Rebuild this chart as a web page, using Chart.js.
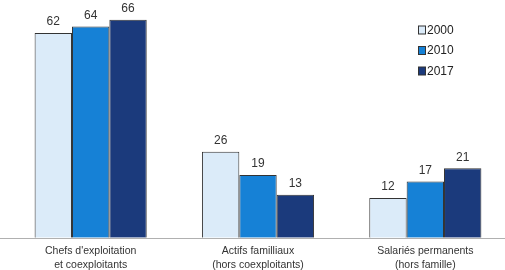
<!DOCTYPE html>
<html><head><meta charset="utf-8">
<script src="https://cdn.jsdelivr.net/npm/chart.js@4"></script>
<style>html,body{margin:0;padding:0;background:#fff;overflow:hidden;width:505px;height:270px}#wrap{width:509px;height:270px;position:relative}</style>
</head><body><div id="wrap"><canvas id="c"></canvas></div>
<script>
const categories = [["Chefs d'exploitation","et coexploitants"],["Actifs familliaux","(hors coexploitants)"],["Salariés permanents","(hors famille)"]];
const years = ["2000","2010","2017"];
const v2000 = [62,26,12];
const v2010 = [64,19,17];
const v2017 = [66,13,21];
const colors = ["#dbebf9","#1681d6","#1b3a7c"];

const labelsPlugin = {
  id:'vals',
  afterDatasetsDraw(chart){
    const ctx=chart.ctx;
    ctx.save();
    ctx.font='12px "Liberation Sans", Arial, sans-serif';
    ctx.fillStyle='#333';
    ctx.textAlign='center';
    ctx.textBaseline='bottom';
    chart.data.datasets.forEach((ds,i)=>{
      chart.getDatasetMeta(i).data.forEach((bar,j)=>{
        ctx.fillText(ds.data[j], bar.x, bar.y-5);
      });
    });
    // axis line
    const y=chart.scales.y.getPixelForValue(0);
    ctx.strokeStyle='#b0b0b0';ctx.lineWidth=1;
    ctx.beginPath();ctx.moveTo(0,Math.round(y)+0.5);ctx.lineTo(chart.width,Math.round(y)+0.5);ctx.stroke();
    // legend
    chart.data.datasets.forEach((ds,i)=>{
      const cy=30+i*20.5;
      ctx.fillStyle=ds.backgroundColor;
      ctx.fillRect(418.5,cy-4,7,8);
      ctx.strokeStyle='#333';ctx.strokeRect(418.5,cy-4,7,8);
      ctx.fillStyle='#222';ctx.textAlign='left';ctx.textBaseline='middle';
      ctx.font='12px "Liberation Sans", Arial, sans-serif';
      ctx.fillText(ds.label,427,cy+0.5);
    });
    ctx.restore();
  }
};

new Chart(document.getElementById('c'),{
  type:'bar',
  data:{labels:categories,datasets:[
    {label:years[0],data:v2000,backgroundColor:colors[0],borderColor:'#333',borderWidth:1},
    {label:years[1],data:v2010,backgroundColor:colors[1],borderColor:'#333',borderWidth:1},
    {label:years[2],data:v2017,backgroundColor:colors[2],borderColor:'#333',borderWidth:1}
  ]},
  options:{
    responsive:true,maintainAspectRatio:false,animation:false,
    layout:{padding:{left:7,right:0,top:0,bottom:-8}},
    plugins:{legend:{display:false},tooltip:{enabled:false}},
    datasets:{bar:{barPercentage:1,categoryPercentage:0.67}},
    scales:{
      x:{grid:{display:false,drawTicks:false},border:{display:false},
         ticks:{color:'#333',padding:6,font:{size:10.5,family:'"Liberation Sans", Arial, sans-serif',lineHeight:1.35},maxRotation:0}},
      y:{display:false,min:0,max:72}
    }
  },
  plugins:[labelsPlugin]
});
</script></body></html>
